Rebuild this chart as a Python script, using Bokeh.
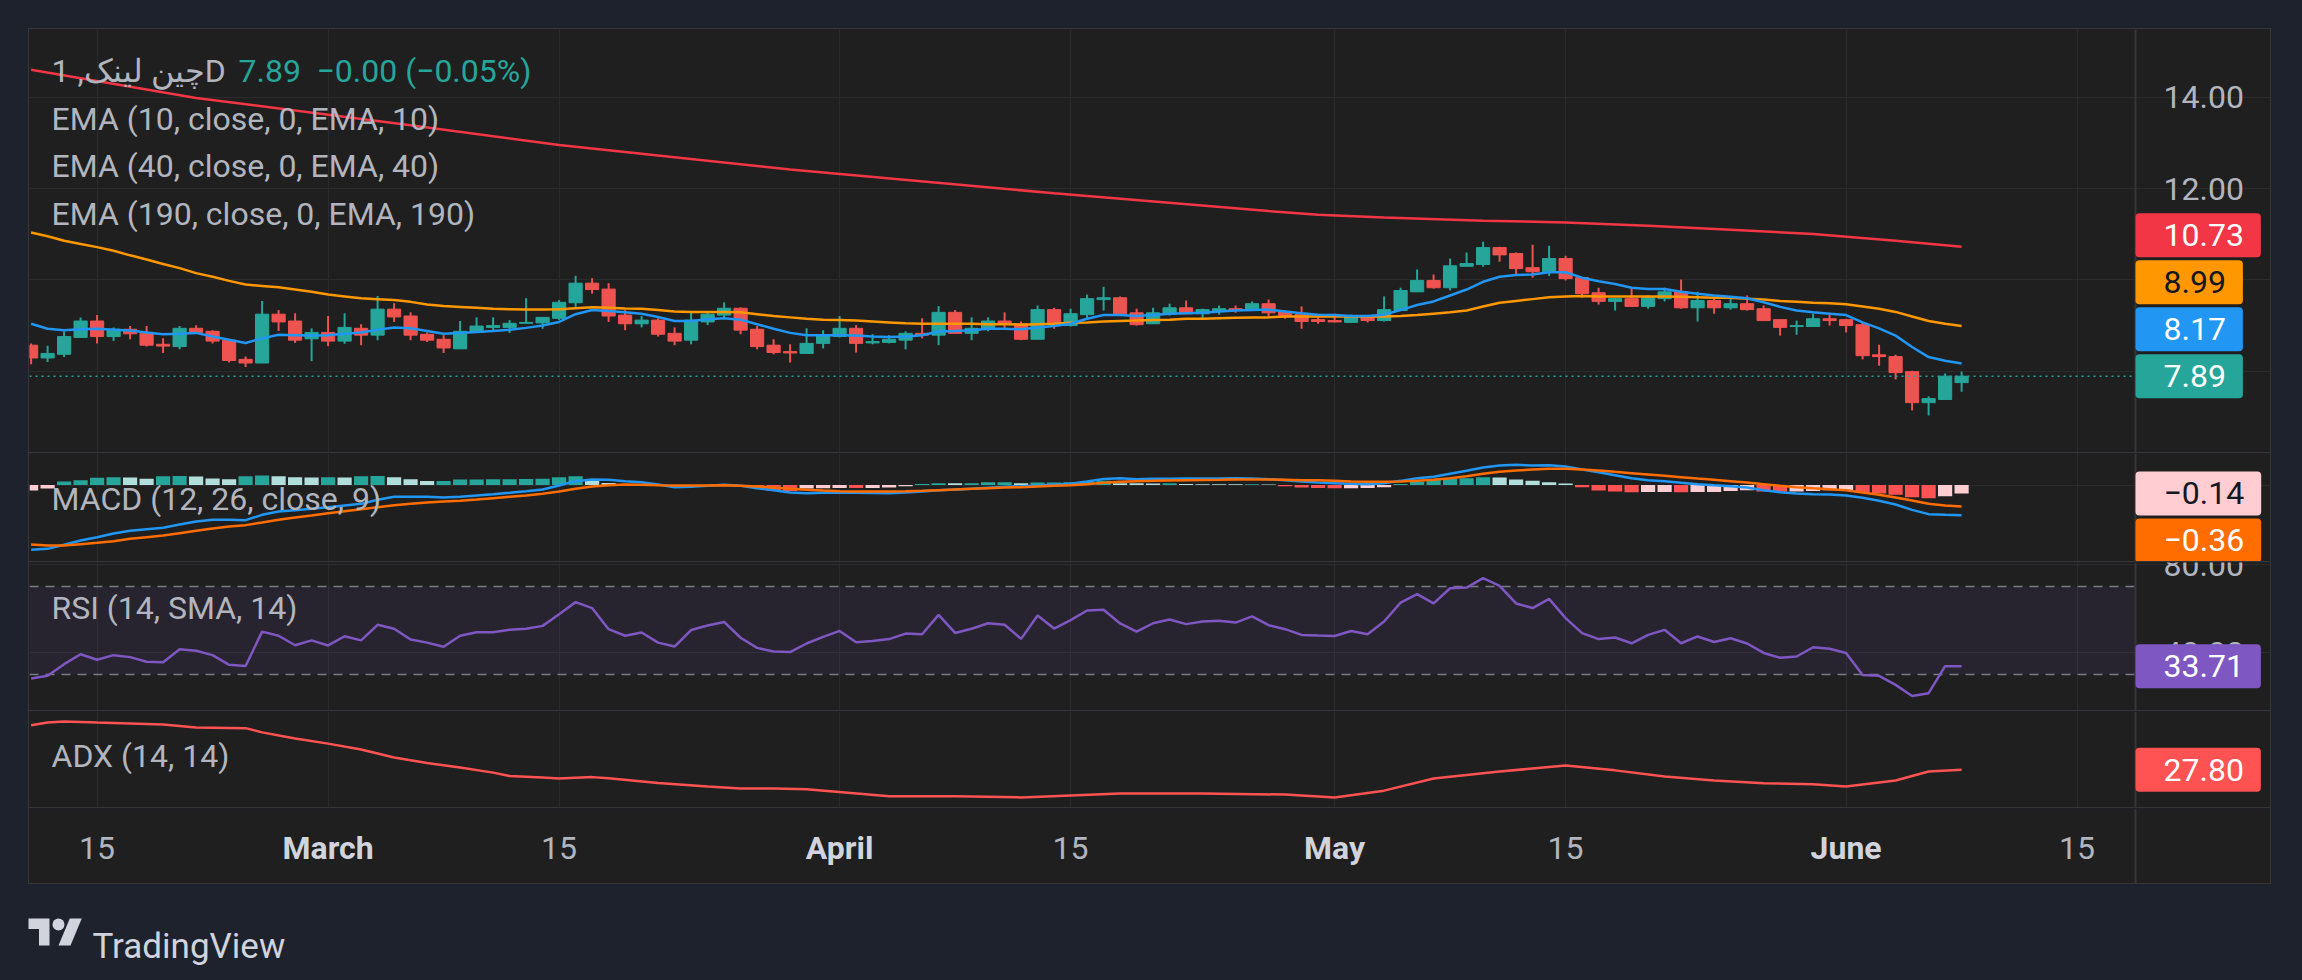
import re
import datetime as dt
from bokeh.plotting import figure
from bokeh.models import (Range1d, FixedTicker, Grid, Span, BoxAnnotation, Label, Spacer)
from bokeh.layouts import column, row
from bokeh.embed import file_html
from bokeh.resources import INLINE
from bokeh.core.properties import value

# ----------------------------------------------------------------- data
FIRST_DAY = "2023-02-11"

opens = [8.57, 8.29, 8.37, 8.74, 9.10, 8.76, 8.92, 8.83, 8.59, 8.54,
         8.94, 8.875, 8.68, 8.26, 8.18, 9.25, 9.10, 8.71, 8.85, 8.66,
         8.94, 8.79, 9.36, 9.21, 8.81, 8.70, 8.49, 8.85, 8.96, 8.96,
         9.05, 9.06, 9.16, 9.50, 9.93, 9.80, 9.23, 9.04, 9.12, 8.83,
         8.68, 9.08, 9.23, 9.38, 8.92, 8.57, 8.43, 8.39, 8.61, 8.76,
         8.94, 8.62, 8.63, 8.68, 8.83, 8.79, 9.29, 8.83, 8.92, 9.10,
         9.04, 8.70, 9.35, 9.00, 9.24, 9.57, 9.61, 9.28, 9.04, 9.26,
         9.39, 9.26, 9.33, 9.37, 9.33, 9.48, 9.31, 9.24, 9.13, 9.11,
         9.07, 9.18, 9.11, 9.33, 9.74, 9.99, 9.83, 10.30, 10.34, 10.71,
         10.58, 10.27, 10.18, 10.47, 10.05, 9.72, 9.53, 9.59, 9.42, 9.59,
         9.74, 9.39, 9.55, 9.39, 9.48, 9.37, 9.13, 8.98, 8.98, 9.15,
         9.13, 9.02, 8.36, 8.32, 7.99, 7.31, 7.38, 7.75]
highs = [8.61, 8.56, 8.87, 9.18, 9.23, 8.96, 8.99, 8.99, 8.72, 8.99,
         9.01, 8.90, 8.68, 8.32, 9.54, 9.34, 9.27, 8.94, 9.21, 9.27,
         9.03, 9.65, 9.49, 9.29, 8.85, 8.79, 9.10, 9.18, 9.18, 9.12,
         9.60, 9.18, 9.56, 10.09, 10.04, 9.93, 9.34, 9.21, 9.16, 8.96,
         9.29, 9.29, 9.51, 9.40, 8.99, 8.70, 8.59, 8.94, 8.90, 9.21,
         9.01, 8.81, 8.79, 8.875, 9.16, 9.43, 9.34, 9.18, 9.18, 9.29,
         9.09, 9.44, 9.39, 9.37, 9.68, 9.85, 9.64, 9.37, 9.39, 9.48,
         9.55, 9.37, 9.44, 9.44, 9.53, 9.57, 9.33, 9.42, 9.18, 9.26,
         9.24, 9.20, 9.64, 9.83, 10.23, 10.12, 10.47, 10.60, 10.84, 10.73,
         10.60, 10.77, 10.75, 10.53, 10.05, 9.83, 9.60, 9.81, 9.66, 9.83,
         10.01, 9.74, 9.61, 9.64, 9.66, 9.44, 9.13, 9.11, 9.26, 9.26,
         9.15, 9.07, 8.58, 8.36, 8.01, 7.45, 7.95, 7.99]
lows = [8.15, 8.20, 8.31, 8.74, 8.61, 8.66, 8.70, 8.54, 8.40, 8.48,
        8.84, 8.61, 8.19, 8.09, 8.18, 8.88, 8.62, 8.22, 8.55, 8.60,
        8.57, 8.68, 9.08, 8.68, 8.64, 8.40, 8.49, 8.85, 8.875, 8.84,
        9.04, 8.93, 9.12, 9.41, 9.70, 9.08, 8.90, 8.96, 8.76, 8.57,
        8.59, 9.01, 9.18, 8.81, 8.48, 8.37, 8.19, 8.39, 8.50, 8.74,
        8.41, 8.59, 8.61, 8.48, 8.72, 8.57, 8.83, 8.68, 8.875, 8.94,
        8.68, 8.70, 8.93, 8.98, 9.13, 9.33, 9.26, 9.00, 9.04, 9.22,
        9.26, 9.15, 9.24, 9.28, 9.33, 9.18, 9.15, 8.93, 9.04, 9.07,
        9.07, 9.07, 9.09, 9.33, 9.74, 9.81, 9.77, 10.30, 10.29, 10.40,
        10.12, 10.05, 10.09, 9.99, 9.61, 9.46, 9.33, 9.42, 9.37, 9.53,
        9.37, 9.09, 9.26, 9.35, 9.33, 9.11, 8.78, 8.80, 8.98, 9.00,
        8.85, 8.26, 8.12, 7.82, 7.14, 7.03, 7.38, 7.55]
closes = [8.29, 8.39, 8.76, 9.10, 8.76, 8.92, 8.82, 8.57, 8.55, 8.94,
          8.85, 8.66, 8.235, 8.18, 9.25, 9.08, 8.68, 8.85, 8.66, 8.96,
          8.79, 9.36, 9.19, 8.79, 8.68, 8.51, 8.875, 8.99, 9.00, 9.05,
          9.07, 9.18, 9.51, 9.93, 9.79, 9.21, 9.04, 9.12, 8.81, 8.66,
          9.12, 9.25, 9.38, 8.90, 8.54, 8.41, 8.40, 8.61, 8.79, 8.94,
          8.61, 8.65, 8.70, 8.83, 8.79, 9.29, 8.83, 8.94, 9.10, 9.05,
          8.70, 9.35, 9.02, 9.26, 9.59, 9.61, 9.26, 9.02, 9.28, 9.39,
          9.26, 9.35, 9.37, 9.33, 9.48, 9.28, 9.22, 9.09, 9.09, 9.08,
          9.20, 9.11, 9.35, 9.77, 9.99, 9.83, 10.31, 10.36, 10.71, 10.55,
          10.25, 10.18, 10.47, 10.03, 9.70, 9.53, 9.59, 9.42, 9.61, 9.74,
          9.39, 9.55, 9.39, 9.48, 9.35, 9.11, 8.96, 9.00, 9.15, 9.11,
          9.00, 8.34, 8.32, 7.97, 7.31, 7.40, 7.89, 7.89]

ema10 = [9.04, 8.93, 8.90, 8.92, 8.93, 8.91, 8.89, 8.85, 8.81, 8.82,
         8.84, 8.76, 8.69, 8.62, 8.72, 8.80, 8.79, 8.78, 8.79, 8.82,
         8.85, 8.91, 8.96, 8.94, 8.88, 8.82, 8.84, 8.86, 8.88, 8.91,
         8.95, 9.00, 9.08, 9.25, 9.34, 9.32, 9.29, 9.26, 9.19, 9.10,
         9.10, 9.14, 9.16, 9.13, 9.03, 8.93, 8.84, 8.79, 8.79, 8.79,
         8.78, 8.76, 8.75, 8.76, 8.79, 8.87, 8.88, 8.90, 8.93, 8.93,
         8.92, 8.96, 8.99, 9.04, 9.15, 9.23, 9.23, 9.21, 9.23, 9.26,
         9.27, 9.28, 9.31, 9.33, 9.34, 9.35, 9.31, 9.27, 9.24, 9.23,
         9.21, 9.21, 9.24, 9.34, 9.45, 9.53, 9.66, 9.79, 9.96, 10.07,
         10.11, 10.12, 10.17, 10.17, 10.05, 9.97, 9.91, 9.83, 9.80, 9.80,
         9.74, 9.70, 9.66, 9.63, 9.60, 9.51, 9.41, 9.33, 9.29, 9.26,
         9.23, 9.07, 8.94, 8.78, 8.53, 8.31, 8.23, 8.17]
ema40 = [11.04, 10.96, 10.86, 10.79, 10.72, 10.64, 10.54, 10.45, 10.35, 10.26,
         10.15, 10.07, 9.98, 9.90, 9.87, 9.84, 9.79, 9.74, 9.68, 9.64,
         9.60, 9.58, 9.56, 9.52, 9.46, 9.43, 9.41, 9.39, 9.37, 9.36,
         9.35, 9.35, 9.36, 9.38, 9.40, 9.39, 9.375, 9.37, 9.34, 9.31,
         9.30, 9.30, 9.30, 9.29, 9.25, 9.21, 9.18, 9.15, 9.13, 9.125,
         9.11, 9.09, 9.07, 9.05, 9.04, 9.04, 9.04, 9.04, 9.03, 9.03,
         9.02, 9.03, 9.04, 9.06, 9.07, 9.09, 9.10, 9.11, 9.12, 9.13,
         9.15, 9.15, 9.16, 9.17, 9.175, 9.18, 9.20, 9.20, 9.20, 9.20,
         9.20, 9.20, 9.20, 9.21, 9.23, 9.26, 9.29, 9.33, 9.42, 9.50,
         9.54, 9.58, 9.62, 9.64, 9.65, 9.64, 9.635, 9.635, 9.635, 9.635,
         9.63, 9.62, 9.61, 9.61, 9.59, 9.57, 9.54, 9.52, 9.50, 9.49,
         9.47, 9.42, 9.37, 9.30, 9.20, 9.10, 9.04, 8.99]
ema190_day = [0, 10, 23, 32, 46, 62, 75, 78, 82, 88, 93, 98, 103, 108, 113, 117]
ema190_val = [14.61, 13.99, 13.39, 12.96, 12.42, 11.90, 11.51, 11.43, 11.37,
              11.30, 11.26, 11.19, 11.10, 11.01, 10.86, 10.73]

macd_line = [-1.08, -1.064, -0.997, -0.925, -0.87, -0.808, -0.764, -0.736, -0.714, -0.658,
             -0.608, -0.58, -0.58, -0.586, -0.497, -0.442, -0.42, -0.397, -0.37, -0.342,
             -0.314, -0.247, -0.197, -0.197, -0.197, -0.208, -0.197, -0.175, -0.153, -0.13,
             -0.103, -0.075, -0.008, 0.064, 0.092, 0.086, 0.064, 0.047, 0.008, -0.036,
             -0.03, -0.014, 0.003, -0.014, -0.053, -0.086, -0.125, -0.136, -0.13, -0.125,
             -0.13, -0.133, -0.136, -0.125, -0.108, -0.086, -0.075, -0.064, -0.047, -0.03,
             -0.02, -0.008, 0.008, 0.02, 0.058, 0.10, 0.114, 0.097, 0.103, 0.103,
             0.108, 0.108, 0.108, 0.114, 0.108, 0.097, 0.08, 0.058, 0.042, 0.031,
             0.019, 0.014, 0.031, 0.069, 0.114, 0.136, 0.186, 0.236, 0.292, 0.325,
             0.336, 0.325, 0.33, 0.308, 0.258, 0.214, 0.164, 0.114, 0.08, 0.064,
             0.036, 0.014, -0.003, -0.019, -0.042, -0.086, -0.119, -0.142, -0.153, -0.158,
             -0.175, -0.214, -0.264, -0.325, -0.414, -0.486, -0.497, -0.503]
macd_signal = [-0.992, -1.008, -1.008, -0.986, -0.964, -0.936, -0.897, -0.869, -0.842, -0.803,
               -0.764, -0.725, -0.692, -0.669, -0.625, -0.58, -0.542, -0.508, -0.469, -0.436,
               -0.403, -0.369, -0.336, -0.314, -0.292, -0.275, -0.264, -0.242, -0.219, -0.197,
               -0.175, -0.147, -0.108, -0.064, -0.025, -0.003, 0.008, 0.003, -0.003, -0.008,
               -0.008, -0.008, -0.003, -0.014, -0.025, -0.042, -0.064, -0.08, -0.092, -0.103,
               -0.108, -0.108, -0.108, -0.103, -0.097, -0.086, -0.075, -0.064, -0.053, -0.042,
               -0.036, -0.025, -0.014, -0.003, 0.014, 0.036, 0.053, 0.064, 0.069, 0.075,
               0.08, 0.083, 0.086, 0.092, 0.092, 0.092, 0.086, 0.08, 0.078, 0.069,
               0.058, 0.053, 0.053, 0.058, 0.069, 0.086, 0.114, 0.147, 0.186, 0.219,
               0.242, 0.258, 0.269, 0.269, 0.258, 0.242, 0.219, 0.197, 0.175, 0.153,
               0.131, 0.108, 0.086, 0.064, 0.042, 0.014, -0.014, -0.036, -0.053, -0.069,
               -0.086, -0.125, -0.164, -0.208, -0.258, -0.314, -0.342, -0.36]
macd_hist = [-0.09, -0.06, 0.06, 0.08, 0.12, 0.13, 0.125, 0.105, 0.145, 0.15,
             0.14, 0.11, 0.095, 0.145, 0.16, 0.145, 0.13, 0.125, 0.13, 0.125,
             0.145, 0.15, 0.13, 0.095, 0.065, 0.067, 0.09, 0.092, 0.094, 0.096,
             0.098, 0.105, 0.13, 0.145, 0.08, 0.035, 0.005, 0.003, -0.01, -0.025,
             -0.02, -0.005, 0.005, -0.005, -0.04, -0.09, -0.10, -0.06, -0.055, -0.05,
             -0.052, -0.048, -0.04, -0.02, 0.015, 0.03, 0.028, 0.03, 0.045, 0.046,
             0.03, 0.04, 0.042, 0.045, 0.055, 0.07, 0.03, 0.028, 0.027, 0.03,
             0.015, 0.013, 0.012, 0.011, 0.013, 0.01, -0.02, -0.04, -0.05, -0.055,
             -0.054, -0.05, -0.036, 0.015, 0.06, 0.086, 0.103, 0.114, 0.131, 0.125,
             0.092, 0.069, 0.047, 0.025, -0.036, -0.092, -0.108, -0.12, -0.118, -0.115,
             -0.12, -0.118, -0.115, -0.10, -0.086, -0.108, -0.112, -0.108, -0.10, -0.086,
             -0.083, -0.131, -0.142, -0.164, -0.203, -0.22, -0.186, -0.14]

rsi = [28.2, 29.4, 34.7, 39.2, 36.7, 38.8, 37.9, 35.8, 35.6, 41.5,
       40.8, 38.8, 34.4, 33.9, 49.5, 47.6, 43.3, 45.5, 43.2, 47.4,
       45.5, 52.6, 50.8, 45.9, 44.5, 42.6, 47.6, 49.2, 49.2, 50.3,
       50.8, 52.1, 57.4, 62.9, 60.2, 50.6, 47.6, 49.1, 44.5, 42.7,
       50.2, 52.3, 53.9, 46.7, 42.1, 40.5, 40.2, 44.1, 47.1, 49.8,
       44.7, 45.2, 46.1, 48.6, 48.3, 57.1, 48.9, 50.8, 53.3, 52.6,
       46.2, 56.8, 50.9, 54.7, 59.1, 59.4, 53.2, 49.5, 53.3, 55.0,
       52.9, 54.1, 54.4, 53.6, 56.4, 52.4, 50.6, 48.0, 47.7, 47.5,
       49.8, 48.3, 54.1, 62.7, 66.5, 62.3, 69.2, 69.5, 73.8, 70.3,
       62.3, 60.2, 64.4, 55.6, 48.8, 46.1, 46.8, 44.2, 48.0, 50.3,
       44.2, 47.3, 44.8, 46.5, 44.1, 39.8, 37.6, 38.2, 42.4, 41.7,
       39.8, 29.8, 29.4, 25.3, 20.2, 21.5, 33.8, 33.71]

adx_day = [0, 1, 2, 4, 8, 10, 13, 14, 16, 18, 20, 22, 24, 26, 28, 29, 31, 32, 34, 35,
           38, 41, 43, 45, 47, 52, 56, 60, 66, 71, 76, 79, 82, 85, 89, 93, 96, 99,
           102, 105, 108, 110, 113, 115, 117]
adx_val = [43.6, 44.6, 45.0, 44.6, 43.9, 42.8, 42.6, 41.1, 38.9, 37.1, 35.0, 32.2,
           30.2, 28.6, 26.8, 25.6, 25.1, 24.7, 25.2, 24.8, 23.1, 21.9, 21.2, 21.2,
           20.9, 18.4, 18.4, 18.0, 19.4, 19.4, 19.0, 18.0, 20.4, 24.7, 27.2, 29.3,
           27.6, 25.4, 24.0, 23.0, 22.7, 21.9, 24.0, 27.2, 27.8]

time_tick_dates = ["2023-02-15", "2023-03-01", "2023-03-15", "2023-04-01", "2023-04-15",
                   "2023-05-01", "2023-05-15", "2023-06-01", "2023-06-15"]
time_tick_labels = ["15", "March", "15", "April", "15", "May", "15", "June", "15"]
price_ticks = [8, 10, 12, 14]
macd_ticks = [0]
rsi_ticks = [40, 80]
rsi_bands = [30, 70]

symbol_title = "چين لينک, 1D"
last_text = "7.89"
change_text = "\u22120.00 (\u22120.05%)"
legend_main = ["EMA (10, close, 0, EMA, 10)", "EMA (40, close, 0, EMA, 40)",
               "EMA (190, close, 0, EMA, 190)"]
legend_macd = "MACD (12, 26, close, 9)"
legend_rsi = "RSI (14, SMA, 14)"
legend_adx = "ADX (14, 14)"

# ----------------------------------------------------------------- style
BG_OUTER = "#1e222d"
BG = "#1f1f1f"
GRID_C = "#2b2b2b"
SEP = "#363636"
TXT = "#b2b5be"
TXT_HI = "#d1d4dc"
UP = "#26a69a"
DOWN = "#ef5350"
C_EMA10 = "#2196f3"
C_EMA40 = "#ff9800"
C_EMA190 = "#f23645"
C_MACD = "#2196f3"
C_SIG = "#ff6d00"
H_UP, H_UP_F, H_DN_F, H_DN = "#26a69a", "#b2dfdb", "#ffcdd2", "#ff5252"
C_RSI = "#7e57c2"
C_ADX = "#ff5252"
FONT = "Roboto"

DAY = 86400000.0
EPOCH = dt.datetime(1970, 1, 1)


def ms(d):
    return (d - EPOCH).total_seconds() * 1000.0


base = dt.datetime.strptime(FIRST_DAY, "%Y-%m-%d")
n = len(closes)
xs = [ms(base + dt.timedelta(days=i)) for i in range(n)]
tick_ms = [ms(dt.datetime.strptime(d, "%Y-%m-%d")) for d in time_tick_dates]

FIG_W = 2241          # whole pane incl. price column
PLOT_W = 2106         # chart part left of the price column
PX_DAY = 16.5
x_start = xs[0] - 1.6 / PX_DAY * DAY
x_sep = x_start + PLOT_W / PX_DAY * DAY
x_end = x_start + FIG_W / PX_DAY * DAY
x_lab = x_sep + 28 / PX_DAY * DAY
xr = Range1d(x_start, x_end)

H_MAIN, H_MACD, H_RSI, H_ADX, H_TIME = 423, 108, 148, 96, 75
TAG_H = 47


def fmt(v):
    s = "%.2f" % abs(v)
    return ("\u2212" + s) if v < 0 else s


def pane(h, y0, y1, yticks):
    p = figure(width=FIG_W, height=h, x_range=xr, y_range=Range1d(y0, y1),
               x_axis_type="datetime", x_axis_location=None, y_axis_location=None,
               toolbar_location=None, output_backend="svg", min_border=0,
               background_fill_color=BG, border_fill_color=BG, outline_line_color=None)
    p.center = [c for c in p.center if not isinstance(c, Grid)]
    p.add_layout(Grid(dimension=0, ticker=FixedTicker(ticks=tick_ms),
                      grid_line_color=GRID_C, grid_line_width=1))
    p.add_layout(Grid(dimension=1, ticker=FixedTicker(ticks=yticks), bounds=(x_start, x_sep),
                      grid_line_color=GRID_C, grid_line_width=1))
    p.add_layout(Span(location=x_sep, dimension="height", line_color=SEP, line_width=2))
    if yticks:
        p.text(x=[x_lab] * len(yticks), y=yticks, text=["%.2f" % t for t in yticks],
               text_font=value(FONT), text_font_size="32px", text_color=TXT,
               text_align="left", text_baseline="middle")
    return p


def legend(p, x, y, text, color=TXT):
    p.add_layout(Label(x=x, y=y, x_units="screen", y_units="screen", text=text,
                       text_font=FONT, text_font_size="32px", text_color=color,
                       text_align="left", text_baseline="middle"))


def tags(p, items, y0, y1, h_px, direction):
    ppu = h_px / (y1 - y0)
    prev = None
    for v, bg, fg in items:
        px = (v - y0) * ppu
        if prev is not None:
            px = max(px, prev + TAG_H) if direction > 0 else min(px, prev - TAG_H)
        prev = px
        p.add_layout(Label(x=x_sep, y=y0 + px / ppu, x_units="data", y_units="data",
                           text=fmt(v), text_font=FONT, text_font_size="32px",
                           text_color=fg, text_align="left", text_baseline="middle",
                           background_fill_color=bg, background_fill_alpha=1.0,
                           padding=dict(left=28, right=17, top=11, bottom=11),
                           border_radius=4))


# ----------------------------------------------------------------- main pane
M0, M1 = 6.2179, 15.4906
pm = pane(H_MAIN, M0, M1, price_ticks)
cols = [UP if c >= o else DOWN for o, c in zip(opens, closes)]
pm.segment(x0=xs, y0=lows, x1=xs, y1=highs, line_color=cols, line_width=2)
pm.vbar(x=xs, width=0.8 * DAY, top=[max(o, c) for o, c in zip(opens, closes)],
        bottom=[min(o, c) for o, c in zip(opens, closes)], fill_color=cols,
        line_color=cols, line_width=1)
pm.line([xs[i] for i in ema190_day], ema190_val, line_color=C_EMA190, line_width=2.5)
pm.line(xs, ema40, line_color=C_EMA40, line_width=2.5)
pm.line(xs, ema10, line_color=C_EMA10, line_width=2.5)
pm.segment(x0=[x_start], y0=[closes[-1]], x1=[x_sep], y1=[closes[-1]], line_color=UP,
           line_width=1.5, line_dash="2 4")
legend(pm, 22, 382, symbol_title)
legend(pm, 209, 382, last_text, UP)
legend(pm, 287, 382, change_text, UP)
for k, t in enumerate(legend_main):
    legend(pm, 22, 334 - 47.5 * k, t)
tags(pm, [(closes[-1], UP, "#ffffff"), (ema10[-1], C_EMA10, "#ffffff"),
          (ema40[-1], C_EMA40, "#131722"), (ema190_val[-1], C_EMA190, "#ffffff")],
     M0, M1, H_MAIN, +1)

# ----------------------------------------------------------------- MACD pane
D0, D1 = -1.275, 0.525
pd_ = pane(H_MACD, D0, D1, macd_ticks)
hcols = []
prev = None
for hv in macd_hist:
    if hv >= 0:
        hcols.append(H_UP if (prev is None or hv >= prev) else H_UP_F)
    else:
        hcols.append(H_DN_F if (prev is None or hv > prev) else H_DN)
    prev = hv
pd_.vbar(x=xs, width=0.86 * DAY, top=macd_hist, bottom=0, fill_color=hcols,
         line_color=None)
pd_.line(xs, macd_line, line_color=C_MACD, line_width=2.5)
pd_.line(xs, macd_signal, line_color=C_SIG, line_width=2.5)
legend(pd_, 22, 63, legend_macd)
tags(pd_, [(macd_hist[-1], H_DN_F, "#131722"), (macd_signal[-1], C_SIG, "#ffffff")],
     D0, D1, H_MACD, -1)

# ----------------------------------------------------------------- RSI pane
R0, R1 = 13.64, 80.91
pr = pane(H_RSI, R0, R1, rsi_ticks)
pr.add_layout(BoxAnnotation(bottom=rsi_bands[0], top=rsi_bands[1], left=x_start,
                            right=x_sep, fill_color=C_RSI, fill_alpha=0.1,
                            line_color=None, level="underlay"))
pr.segment(x0=[x_start] * 2, y0=rsi_bands, x1=[x_sep] * 2, y1=rsi_bands,
           line_color="#787b86", line_width=1.5, line_dash="9 7")
pr.line(xs, rsi, line_color=C_RSI, line_width=2.5)
legend(pr, 22, 103, legend_rsi)
tags(pr, [(rsi[-1], C_RSI, "#ffffff")], R0, R1, H_RSI, +1)

# ----------------------------------------------------------------- ADX pane
A0, A1 = 14.41, 48.51
pa = pane(H_ADX, A0, A1, [])
pa.line([xs[i] for i in adx_day], adx_val, line_color=C_ADX, line_width=2.5)
legend(pa, 22, 52, legend_adx)
tags(pa, [(adx_val[-1], C_ADX, "#ffffff")], A0, A1, H_ADX, +1)

# ----------------------------------------------------------------- time axis
pt = figure(width=FIG_W, height=H_TIME, x_range=xr, y_range=Range1d(0, H_TIME),
            x_axis_location=None, y_axis_location=None, toolbar_location=None,
            output_backend="svg", min_border=0, background_fill_color=BG,
            border_fill_color=BG, outline_line_color=None)
pt.grid.visible = False
pt.add_layout(Span(location=x_sep, dimension="height", line_color=SEP, line_width=2))
day_x = [t for t, l in zip(tick_ms, time_tick_labels) if l.isdigit()]
day_l = [l for l in time_tick_labels if l.isdigit()]
mon_x = [t for t, l in zip(tick_ms, time_tick_labels) if not l.isdigit()]
mon_l = [l for l in time_tick_labels if not l.isdigit()]
pt.text(x=day_x, y=[36] * len(day_x), text=day_l, text_font=value(FONT),
        text_font_size="32px", text_color=TXT, text_align="center",
        text_baseline="middle")
pt.text(x=mon_x, y=[36] * len(mon_x), text=mon_l, text_font=value(FONT),
        text_font_size="32px", text_color=TXT_HI, text_align="center",
        text_baseline="middle", text_font_style="bold")

# ----------------------------------------------------------------- logo
LOGO_W, LOGO_H = 600, 96
lg = figure(width=LOGO_W, height=LOGO_H, x_range=Range1d(0, LOGO_W),
            y_range=Range1d(0, LOGO_H), x_axis_location=None, y_axis_location=None,
            toolbar_location=None, output_backend="svg", min_border=0,
            background_fill_color=BG_OUTER, border_fill_color=BG_OUTER,
            outline_line_color=None)
lg.grid.visible = False
T_svg = [(0, 4), (14, 4), (14, 22), (7, 22), (7, 11), (0, 11)]
V_svg = [(20, 22), (27.5, 4), (35.5, 4), (28, 22)]


def lx(sx):
    return 28 + sx * 1.5


def ly(sy):
    return 62 - (sy - 4) * 1.5


lg.patches(xs=[[lx(a) for a, b in T_svg], [lx(a) for a, b in V_svg]],
           ys=[[ly(b) for a, b in T_svg], [ly(b) for a, b in V_svg]],
           fill_color=TXT_HI, line_color=None)
lg.circle(x=[lx(20)], y=[ly(8)], radius=6, fill_color=TXT_HI, line_color=None)
lg.text(x=[92], y=[34], text=["TradingView"], text_font=value(FONT),
        text_font_size="35px", text_color=TXT_HI, text_baseline="alphabetic")

# ----------------------------------------------------------------- layout


def sep_h():
    return Spacer(width=FIG_W, height=1, styles={"background-color": SEP})


panel_h = 1 + H_MAIN + 1 + H_MACD + 1 + H_RSI + 1 + H_ADX + 1 + H_TIME + 1
panel = column([sep_h(), pm, sep_h(), pd_, sep_h(), pr, sep_h(), pa, sep_h(), pt, sep_h()],
               spacing=0)
framed = row([Spacer(width=28, height=panel_h),
              Spacer(width=1, height=panel_h, styles={"background-color": SEP}),
              panel,
              Spacer(width=1, height=panel_h, styles={"background-color": SEP})],
             spacing=0)
root = column([Spacer(width=28, height=28), framed, lg], spacing=0,
              styles={"background-color": BG_OUTER})

html = file_html(root, INLINE, title="LINK 1D")
html = html.replace("</head>",
                    "<style>html, body { background-color: %s !important; }</style></head>"
                    % BG_OUTER, 1)
html = re.sub(r"<body([^>]*)>", r'<body\1 style="background-color:%s;">' % BG_OUTER,
              html, count=1)
open("out.html", "w").write(html)
